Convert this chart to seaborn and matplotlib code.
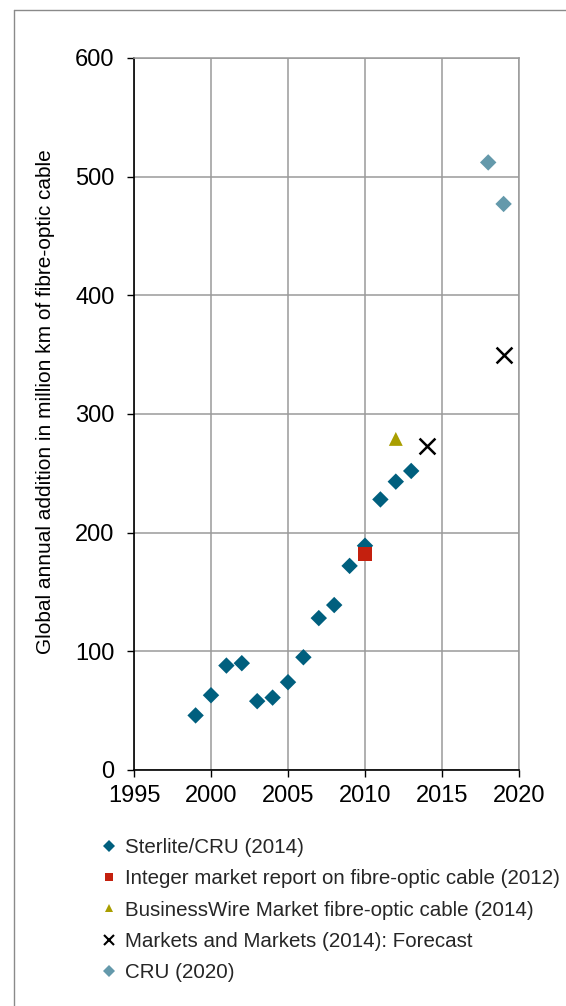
import matplotlib
matplotlib.use("Agg")
import matplotlib.pyplot as plt
from matplotlib.lines import Line2D
import seaborn as sns
import pandas as pd

# Global annual addition of fibre-optic cable (million km)
sterlite_years = [1999, 2000, 2001, 2002, 2003, 2004, 2005, 2006, 2007,
                  2008, 2009, 2010, 2011, 2012, 2013]
sterlite_values = [46, 63, 88, 90, 58, 61, 74, 95, 128, 139, 172, 189, 228, 243, 252]

integer_years = [2010]
integer_values = [182]

businesswire_years = [2012]
businesswire_values = [279]

mm_years = [2014, 2019]
mm_values = [273, 350]

cru_years = [2018, 2019]
cru_values = [512, 477]

x_ticks = [1995, 2000, 2005, 2010, 2015, 2020]
y_ticks = [0, 100, 200, 300, 400, 500, 600]

series = [
    ("Sterlite/CRU (2014)", sterlite_years, sterlite_values, "D", "#005F7E", 70, 0),
    ("Integer market report on fibre-optic cable (2012)", integer_years, integer_values, "s", "#C4200E", 110, 0),
    ("BusinessWire Market fibre-optic cable (2014)", businesswire_years, businesswire_values, "^", "#A99E00", 100, 0),
    ("Markets and Markets (2014): Forecast", mm_years, mm_values, "x", "#000000", 130, 1.8),
    ("CRU (2020)", cru_years, cru_values, "D", "#6499AB", 70, 0),
]

sns.set_theme(style="white")
plt.rcParams["font.family"] = ["Liberation Sans", "DejaVu Sans"]

fig = plt.figure(figsize=(5.66, 10.06), dpi=100)
ax = fig.add_axes([134 / 566, 1 - 770 / 1006, (519 - 134) / 566, (770 - 58) / 1006])

handles = []
for name, xs, ys, mk, col, size, lw in series:
    df = pd.DataFrame({"year": xs, "value": ys})
    sns.scatterplot(data=df, x="year", y="value", marker=mk, color=col, s=size,
                    linewidth=lw, edgecolor=col if mk == "x" else "none",
                    ax=ax, legend=False, zorder=3)
    handles.append(Line2D([], [], linestyle="none", marker=mk, color=col,
                          markersize=6 if mk != "x" else 7,
                          markeredgewidth=1.5 if mk == "x" else 0,
                          label=name))

ax.set_xlim(1995, 2020)
ax.set_ylim(0, 600)
ax.set_xticks(x_ticks)
ax.set_yticks(y_ticks)
ax.set_xlabel("")
ax.set_ylabel("Global annual addition in million km of fibre-optic cable",
              fontsize=15, color="#000000")
ax.yaxis.set_label_coords(-0.205, 0.518)

ax.grid(True, color="#9A9A9A", linewidth=1.1)
ax.set_axisbelow(True)
for side in ["top", "right"]:
    ax.spines[side].set_color("#9A9A9A")
    ax.spines[side].set_linewidth(1.1)
for side in ["left", "bottom"]:
    ax.spines[side].set_color("#000000")
    ax.spines[side].set_linewidth(1.2)

ax.tick_params(axis="both", which="major", direction="out", length=5, width=1,
               color="#000000", labelsize=17, labelcolor="#000000",
               left=True, bottom=True)
ax.tick_params(axis="y", pad=9)
ax.tick_params(axis="x", pad=6)

fig.legend(handles=handles, loc="upper left",
           bbox_to_anchor=(103 / 566, 1 - 838 / 1006),
           bbox_transform=fig.transFigure, frameon=False, fontsize=14.8,
           handlelength=0.6, handletextpad=0.45, labelspacing=0.6,
           borderpad=0, borderaxespad=0)

# Outer frame lines (top and left edges)
fig.add_artist(Line2D([14 / 566, 1.0], [1 - 10 / 1006, 1 - 10 / 1006],
                      transform=fig.transFigure, color="#8A8A8A", linewidth=1))
fig.add_artist(Line2D([14 / 566, 14 / 566], [0.0, 1 - 10 / 1006],
                      transform=fig.transFigure, color="#8A8A8A", linewidth=1))

fig.savefig("out.png", dpi=100, facecolor="white")
